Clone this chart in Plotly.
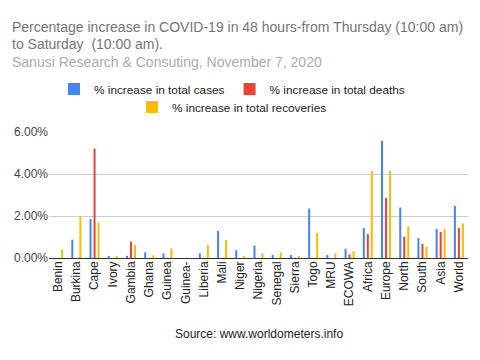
import plotly.graph_objects as go

categories = ["Benin", "Burkina", "Cape", "Ivory", "Gambia", "Ghana", "Guinea", "Guinea-",
              "Liberia", "Mali", "Niger", "Nigeria", "Senegal", "Sierra", "Togo", "MRU",
              "ECOWA", "Africa", "Europe", "North", "South", "Asia", "World"]
cases = [0.0, 0.87, 1.86, 0.10, 0.10, 0.27, 0.22, 0.0, 0.22, 1.29, 0.37, 0.59, 0.14, 0.14,
         2.35, 0.14, 0.44, 1.43, 5.59, 2.40, 0.95, 1.38, 2.48]
deaths = [0.0, 0.0, 5.21, 0.0, 0.78, 0.0, 0.0, 0.0, 0.0, 0.0, 0.0, 0.0, 0.0, 0.0,
          0.0, 0.0, 0.17, 1.14, 2.86, 1.02, 0.68, 1.24, 1.43]
recoveries = [0.40, 1.98, 1.70, 0.10, 0.63, 0.13, 0.46, 0.0, 0.63, 0.86, 0.06, 0.22, 0.27, 0.10,
              1.19, 0.22, 0.32, 4.16, 4.16, 1.51, 0.54, 1.38, 1.65]

names = ["% increase in total cases", "% increase in total deaths", "% increase in total recoveries"]
colors = ["#4285F4", "#EA4335", "#FBBC04"]
title_lines = ["Percentage increase in COVID-19 in 48 hours-from Thursday (10:00 am)",
               "to Saturday \u00a0(10:00 am)."]
subtitle = "Sanusi Research &amp; Consuting, November 7, 2020"
source = "Source: www.worldometers.info"
FONT = "Liberation Sans, Arial, sans-serif"

# page body has an 8px margin, so the figure is 472x352 and drawn from (8, 8)
W, H = 472, 352
PL, PR = 41, 12
PT, PB = 124, 250          # plot top / bottom in figure px
PW = W - PL - PR
PH = PB - PT


def py(fig_y):
    return (PB - fig_y) / PH


fig = go.Figure()
for vals, name, col, lg in zip([cases, deaths, recoveries], names, colors, ["legend", "legend", "legend2"]):
    fig.add_trace(go.Bar(x=categories, y=[v / 100 for v in vals], name=name,
                         marker=dict(color=col, line=dict(width=0)), legend=lg))

annos = []
for txt, yy, col in [(title_lines[0], 19, "#757575"), (title_lines[1], 36, "#757575"),
                     (subtitle, 54, "#ababab")]:
    annos.append(dict(text=txt, xref="paper", yref="paper", x=(2 - PL) / PW, y=py(yy),
                      xanchor="left", yanchor="middle", showarrow=False,
                      font=dict(size=14, color=col, family=FONT)))
annos.append(dict(text=source, xref="paper", yref="paper", x=0.5, y=py(326),
                  xanchor="center", yanchor="middle", showarrow=False,
                  font=dict(size=12, color="#222222")))

fig.update_layout(
    width=W, height=H,
    paper_bgcolor="white", plot_bgcolor="white",
    margin=dict(l=PL, r=PR, t=PT, b=H - PB, autoexpand=False),
    barmode="group", bargap=0.34, bargroupgap=0.5,
    font=dict(family=FONT, color="#222222"),
    legend=dict(orientation="h", x=46 / W, xanchor="left", xref="container",
                y=py(81), yanchor="middle",
                font=dict(size=11.8, color="#222222"), bgcolor="rgba(0,0,0,0)"),
    legend2=dict(orientation="h", x=124 / W, xanchor="left", xref="container",
                 y=py(99), yanchor="middle",
                 font=dict(size=11.8, color="#222222"), bgcolor="rgba(0,0,0,0)"),
    xaxis=dict(tickangle=-90, tickfont=dict(size=12, color="#222222"), showgrid=False,
               showline=False, ticks="", automargin=False),
    yaxis=dict(range=[0, 0.06], tickformat=".2%", tickvals=[0, 0.02, 0.04, 0.06],
               tickfont=dict(size=12, color="#444444"), gridcolor="#cccccc",
               zeroline=True, zerolinecolor="#333333", zerolinewidth=1, automargin=False),
    annotations=annos,
)

fig.write_html("out.html")
